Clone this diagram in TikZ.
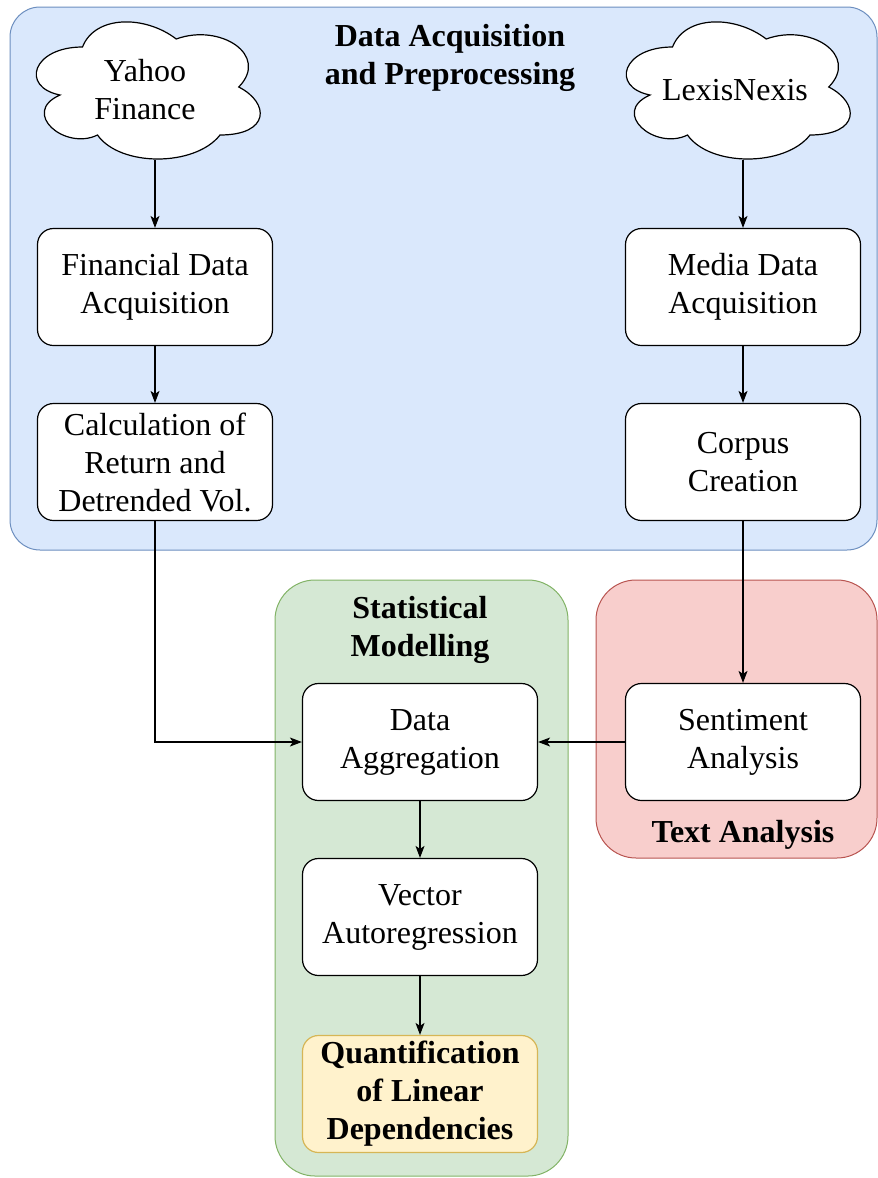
\documentclass[tikz,border=0pt]{standalone}
\usepackage{fontspec}
\setmainfont{Liberation Serif}
\usetikzlibrary{arrows.meta, positioning}
\definecolor{AcqFill}{HTML}{DAE8FC}
\definecolor{AcqLine}{HTML}{6C8EBF}
\definecolor{StatFill}{HTML}{D5E8D4}
\definecolor{StatLine}{HTML}{82B366}
\definecolor{TextFill}{HTML}{F8CECC}
\definecolor{TextLine}{HTML}{B85450}
\definecolor{ResFill}{HTML}{FFF2CC}
\definecolor{ResLine}{HTML}{D6B656}
\newcommand{\flowfont}{\fontsize{32}{38}\selectfont}
% Wolke mit linker oberer Ecke #1
\newcommand{\cloudoutline}[1]{%
  \draw[line width=1.2pt, fill=white, shift={(#1)}, x=250pt, y=-160pt]
    (0.25,0.25) .. controls (0.05,0.25) and (0,0.5) .. (0.16,0.55)
    .. controls (0,0.66) and (0.18,0.9) .. (0.31,0.8)
    .. controls (0.4,1) and (0.7,1) .. (0.8,0.8)
    .. controls (1,0.8) and (1,0.6) .. (0.875,0.5)
    .. controls (1,0.3) and (0.8,0.1) .. (0.625,0.2)
    .. controls (0.5,0.05) and (0.3,0.05) .. (0.25,0.25) -- cycle;}
\tikzset{
  stepbox/.style={draw, line width=1.2pt, rounded corners=16pt, fill=white,
    minimum width=235pt, minimum height=117pt, align=center, font=\flowfont},
  source/.style={minimum width=250pt, minimum height=140pt, align=center, font=\flowfont},
  grouplabel/.style={align=center, font=\flowfont\bfseries},
  flow/.style={-{Stealth[length=12pt, width=9pt, inset=3pt]}, line width=1.2pt},
}
\begin{document}
\begin{tikzpicture}[x=1pt, y=-1pt]
    \useasboundingbox (0,0) rectangle (878,1178);

    % Gruppen
    \draw[AcqLine, fill=AcqFill, line width=1pt, rounded corners=30pt] (10,7) rectangle (877,550);
    \draw[StatLine, fill=StatFill, line width=1pt, rounded corners=40pt] (275,580) rectangle (568,1176);
    \draw[TextLine, fill=TextFill, line width=1pt, rounded corners=40pt] (596,580) rectangle (877,858);

    \node[grouplabel] (acqtitle) at (450,58) {Data Acquisition\\and Preprocessing};
    \node[grouplabel] (stattitle) at (420,630) {Statistical\\Modelling};
    \node[grouplabel] (texttitle) at (743,835) {Text Analysis};

    % Quellen
    \cloudoutline{20,7}
    \cloudoutline{610,7}
    \node[source] (yahoo) at (145,90) {Yahoo\\Finance};
    \node[source] (lexis) at (735,90) {LexisNexis};

    % Finanzdaten
    \node[stepbox] (findata) at (155,287) {Financial Data\\Acquisition};
    \node[stepbox] (calc) at (155,462) {Calculation of\\Return and\\Detrended Vol.};

    % Mediendaten
    \node[stepbox] (media) at (743,287) {Media Data\\Acquisition};
    \node[stepbox] (corpus) at (743,462) {Corpus\\Creation};
    \node[stepbox] (sentiment) at (743,742) {Sentiment\\Analysis};

    % Modellierung
    \node[stepbox] (agg) at (420,742) {Data\\Aggregation};
    \node[stepbox] (var) at (420,917) {Vector\\Autoregression};
    \node[stepbox, draw=ResLine, fill=ResFill, font=\flowfont\bfseries] (quant) at (420,1094)
        {Quantification\\of Linear\\Dependencies};

    % Verbindungen
    \draw[flow] (yahoo.south -| findata.north) -- (findata.north);
    \draw[flow] (findata) -- (calc);
    \draw[flow] (lexis.south -| media.north) -- (media.north);
    \draw[flow] (media) -- (corpus);
    \draw[flow] (corpus) -- (sentiment);
    \draw[flow] (calc.south) |- (agg.west);
    \draw[flow] (sentiment) -- (agg);
    \draw[flow] (agg) -- (var);
    \draw[flow] (var) -- (quant);
\end{tikzpicture}
\end{document}
